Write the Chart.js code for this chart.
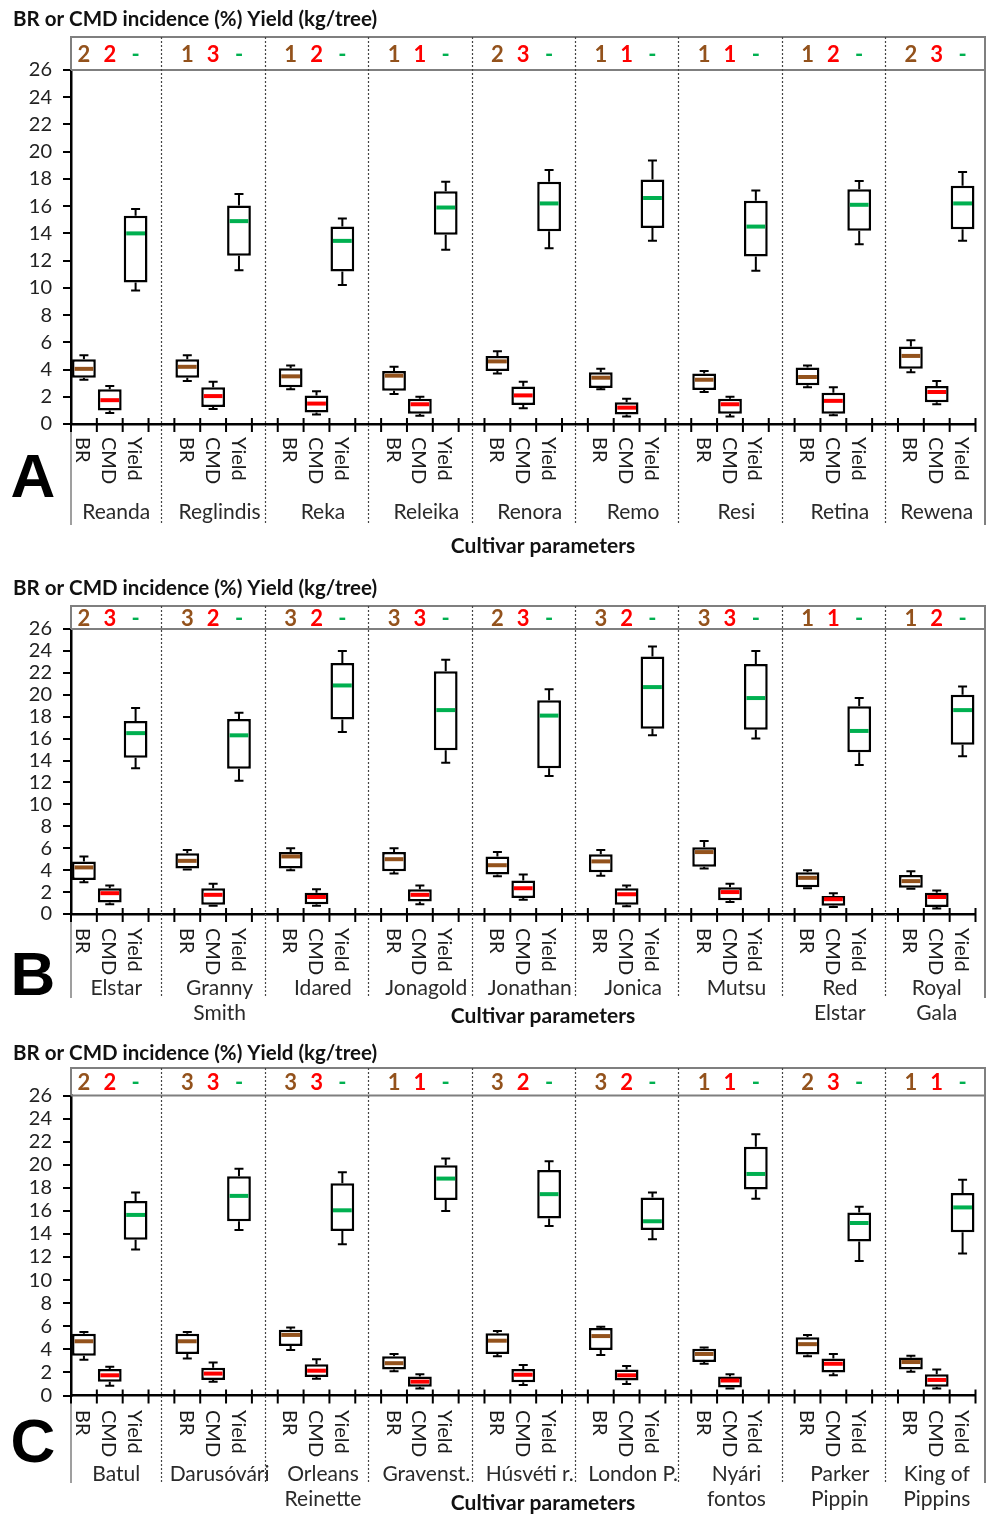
<!DOCTYPE html>
<html>
<head>
<meta charset="utf-8">
<script src="https://cdn.jsdelivr.net/npm/chart.js@4.4.1/dist/chart.umd.min.js"></script>
<style>
  html, body { margin: 0; padding: 0; background: #fff; }
  #wrap { position: relative; width: 990px; height: 1514px; }
  #wrap canvas { position: absolute; left: 0; }
</style>
</head>
<body>
<div id="wrap">
  <canvas id="panelA" width="990" height="560" style="top:0px;width:990px;height:560px"></canvas>
  <canvas id="panelB" width="990" height="465" style="top:565px;width:990px;height:465px"></canvas>
  <canvas id="panelC" width="990" height="484" style="top:1030px;width:990px;height:484px"></canvas>
</div>
<script>
// ---------- data: each stat row is [min, q1, median, q3, max] ----------
const paramLabels = ['BR', 'CMD', 'Yield'];
const yTickValues = [0, 2, 4, 6, 8, 10, 12, 14, 16, 18, 20, 22, 24, 26];
const axisTitle = 'BR or CMD incidence (%) Yield (kg/tree)';
const xTitle = 'Cultivar parameters';

// Panel A
const cultivarsA = ['Reanda', 'Reglindis', 'Reka', 'Releika', 'Renora', 'Remo', 'Resi', 'Retina', 'Rewena'];
const brCodeA  = ['2', '1', '1', '1', '2', '1', '1', '1', '2'];
const cmdCodeA = ['2', '3', '2', '1', '3', '1', '1', '2', '3'];
const brA = [
  [3.25, 3.4, 4.05, 4.75, 5.05], [3.15, 3.4, 4.2, 4.75, 5.05], [2.55, 2.7, 3.5, 4.1, 4.3],
  [2.2, 2.45, 3.55, 3.9, 4.2], [3.7, 3.9, 4.6, 5.0, 5.35], [2.55, 2.65, 3.4, 3.8, 4.05],
  [2.35, 2.5, 3.25, 3.7, 3.9], [2.7, 2.85, 3.45, 4.15, 4.3], [3.8, 4.05, 5.0, 5.7, 6.15]
];
const cmdA = [
  [0.8, 1.0, 1.75, 2.55, 2.8], [1.1, 1.25, 2.05, 2.7, 3.1], [0.7, 0.85, 1.5, 2.1, 2.4],
  [0.6, 0.75, 1.45, 1.85, 2.0], [1.15, 1.4, 2.1, 2.75, 3.1], [0.55, 0.7, 1.2, 1.6, 1.85],
  [0.55, 0.75, 1.45, 1.85, 2.0], [0.65, 0.75, 1.7, 2.3, 2.7], [1.45, 1.6, 2.35, 2.8, 3.15]
];
const yieldA = [
  [9.8, 10.4, 14.0, 15.3, 15.8], [11.3, 12.35, 14.9, 16.05, 16.9], [10.2, 11.2, 13.45, 14.5, 15.1],
  [12.8, 13.9, 15.9, 17.1, 17.8], [12.9, 14.15, 16.2, 17.8, 18.65], [13.45, 14.4, 16.6, 17.95, 19.35],
  [11.25, 12.3, 14.5, 16.4, 17.15], [13.2, 14.2, 16.1, 17.25, 17.85], [13.45, 14.3, 16.2, 17.5, 18.5]
];

// Panel B
const cultivarsB = ['Elstar', 'Granny\nSmith', 'Idared', 'Jonagold', 'Jonathan', 'Jonica', 'Mutsu', 'Red\nElstar', 'Royal\nGala'];
const brCodeB  = ['2', '3', '3', '3', '2', '3', '3', '1', '1'];
const cmdCodeB = ['3', '2', '2', '3', '3', '2', '3', '1', '2'];
const brB = [
  [2.9, 3.1, 4.25, 4.8, 5.25], [4.05, 4.15, 4.85, 5.55, 5.85], [4.0, 4.15, 5.25, 5.65, 6.0],
  [3.7, 3.9, 5.0, 5.65, 6.0], [3.45, 3.6, 4.45, 5.25, 5.65], [3.5, 3.8, 4.8, 5.45, 5.85],
  [4.15, 4.3, 5.65, 6.1, 6.65], [2.35, 2.45, 3.3, 3.8, 4.0], [2.3, 2.4, 3.0, 3.55, 3.9]
];
const cmdB = [
  [0.9, 1.05, 1.9, 2.35, 2.6], [0.75, 0.85, 1.75, 2.35, 2.75], [0.75, 0.9, 1.55, 1.95, 2.25],
  [0.9, 1.15, 1.75, 2.25, 2.6], [1.3, 1.45, 2.35, 3.05, 3.6], [0.7, 0.85, 1.8, 2.35, 2.6],
  [1.1, 1.25, 2.0, 2.45, 2.75], [0.65, 0.75, 1.35, 1.65, 1.9], [0.5, 0.65, 1.55, 1.95, 2.15]
];
const yieldB = [
  [13.3, 14.25, 16.5, 17.6, 18.8], [12.15, 13.25, 16.3, 17.8, 18.35], [16.6, 17.75, 20.85, 22.9, 24.0],
  [13.8, 14.95, 18.6, 22.15, 23.2], [12.6, 13.3, 18.1, 19.5, 20.5], [16.3, 16.9, 20.7, 23.5, 24.4],
  [16.0, 16.8, 19.7, 22.8, 24.0], [13.6, 14.75, 16.7, 18.95, 19.7], [14.4, 15.45, 18.6, 20.0, 20.75]
];

// Panel C
const cultivarsC = ['Batul', 'Darusóvári', 'Orleans\nReinette', 'Gravenst.', 'Húsvéti r.', 'London P.', 'Nyári\nfontos', 'Parker\nPippin', 'King of\nPippins'];
const brCodeC  = ['2', '3', '3', '1', '3', '3', '1', '2', '1'];
const cmdCodeC = ['2', '3', '3', '1', '2', '2', '1', '3', '1'];
const brC = [
  [3.1, 3.45, 4.7, 5.35, 5.5], [3.2, 3.6, 4.7, 5.35, 5.5], [3.95, 4.3, 5.25, 5.7, 5.9],
  [2.1, 2.25, 2.8, 3.4, 3.6], [3.4, 3.6, 4.75, 5.4, 5.6], [3.5, 3.95, 5.15, 5.85, 5.95],
  [2.75, 2.9, 3.6, 4.05, 4.15], [3.4, 3.55, 4.45, 5.05, 5.25], [2.05, 2.25, 2.9, 3.3, 3.45]
];
const cmdC = [
  [0.85, 1.2, 1.75, 2.3, 2.5], [1.2, 1.35, 1.9, 2.4, 2.85], [1.45, 1.6, 2.15, 2.7, 3.15],
  [0.6, 0.75, 1.2, 1.65, 1.85], [0.9, 1.15, 1.8, 2.3, 2.65], [1.0, 1.3, 1.75, 2.25, 2.55],
  [0.6, 0.7, 1.3, 1.65, 1.85], [1.75, 2.0, 2.75, 3.2, 3.6], [0.6, 0.75, 1.35, 1.85, 2.25]
];
const yieldC = [
  [12.65, 13.5, 15.65, 16.85, 17.6], [14.35, 15.1, 17.3, 19.0, 19.65], [13.1, 14.25, 16.05, 18.4, 19.35],
  [16.0, 16.95, 18.8, 19.95, 20.55], [14.7, 15.35, 17.45, 19.55, 20.3], [13.55, 14.35, 15.1, 17.15, 17.6],
  [17.05, 17.85, 19.2, 21.55, 22.65], [11.65, 13.35, 14.95, 15.85, 16.35], [12.3, 14.15, 16.3, 17.55, 18.7]
];

// ---------- styling ----------
const FONT = 'Lato, "Open Sans", sans-serif';
const BROWN = '#93521c';
const RED = '#ff0000';
const GREEN = '#00b050';
const medianColors = [BROWN, RED, GREEN];
const codeColors = [BROWN, RED, GREEN];
const FRAME = '#7f7f7f';
const PLOT_RIGHT = 975.5;
const FRAME_RIGHT = 985;

// Draws whiskers, medians and all the panel furniture around the box plots.
const boxDecor = {
  id: 'boxDecor',
  beforeDatasetsDraw(chart, args, o) {
    const ctx = chart.ctx, y = chart.scales.y, meta = chart.getDatasetMeta(0);
    ctx.save();
    ctx.strokeStyle = '#000';
    ctx.lineWidth = 2;
    o.stats.forEach((s, i) => {
      if (!s) return;
      const cx = meta.data[i].x;
      const pMin = y.getPixelForValue(s[0]), pQ1 = y.getPixelForValue(s[1]);
      const pQ3 = y.getPixelForValue(s[3]), pMax = y.getPixelForValue(s[4]);
      ctx.beginPath();
      ctx.moveTo(cx, pQ3); ctx.lineTo(cx, pMax);
      ctx.moveTo(cx, pQ1); ctx.lineTo(cx, pMin);
      ctx.moveTo(cx - 4.5, pMax); ctx.lineTo(cx + 4.5, pMax);
      ctx.moveTo(cx - 4.5, pMin); ctx.lineTo(cx + 4.5, pMin);
      ctx.stroke();
    });
    ctx.restore();
  },
  afterDatasetsDraw(chart, args, o) {
    const ctx = chart.ctx, y = chart.scales.y, meta = chart.getDatasetMeta(0);
    ctx.save();
    ctx.lineWidth = 4;
    o.stats.forEach((s, i) => {
      if (!s) return;
      const bar = meta.data[i];
      const half = bar.width / 2;
      const pMed = y.getPixelForValue(s[2]);
      ctx.strokeStyle = medianColors[o.kinds[i]];
      ctx.beginPath();
      ctx.moveTo(bar.x - half + 2.5, pMed);
      ctx.lineTo(bar.x + half - 2.5, pMed);
      ctx.stroke();
    });
    ctx.restore();
  },
  afterDraw(chart, args, o) {
    const ctx = chart.ctx, x = chart.scales.x, g = o.geom;
    const n = o.labels.length;
    const c0 = x.getPixelForValue(0);
    const w = x.getPixelForValue(1) - c0;
    const center = i => x.getPixelForValue(i);
    const left = x.left;
    ctx.save();

    // header band and outer frame
    ctx.strokeStyle = FRAME;
    ctx.lineWidth = 2;
    ctx.beginPath();
    ctx.moveTo(left, g.plotTop); ctx.lineTo(left, g.headerTop);
    ctx.lineTo(FRAME_RIGHT, g.headerTop); ctx.lineTo(FRAME_RIGHT, g.frameBottom);
    ctx.moveTo(left, g.plotTop); ctx.lineTo(FRAME_RIGHT, g.plotTop);
    ctx.stroke();
    ctx.lineWidth = 1.5;
    ctx.beginPath();
    ctx.moveTo(left, g.plotBottom); ctx.lineTo(left, g.frameBottom);
    ctx.stroke();

    // dotted separators between cultivars
    ctx.strokeStyle = '#444';
    ctx.lineWidth = 1.2;
    ctx.setLineDash([2, 2]);
    o.labels.forEach((lab, i) => {
      if (lab !== '') return;
      const sx = Math.round(center(i)) + 0.5;
      ctx.beginPath();
      ctx.moveTo(sx, g.headerTop); ctx.lineTo(sx, g.frameBottom);
      ctx.stroke();
    });
    ctx.setLineDash([]);

    // category tick marks crossing the x axis
    ctx.strokeStyle = '#000';
    ctx.lineWidth = 2;
    ctx.beginPath();
    for (let i = 0; i <= n; i++) {
      const bx = c0 - w / 2 + i * w;
      ctx.moveTo(bx, g.plotBottom - 6); ctx.lineTo(bx, g.plotBottom + 8);
    }
    ctx.stroke();

    // parameter labels, rotated to read downwards
    ctx.fillStyle = '#1a1a1a';
    ctx.font = '20px ' + FONT;
    ctx.textAlign = 'left';
    ctx.textBaseline = 'middle';
    o.labels.forEach((lab, i) => {
      if (lab === '') return;
      ctx.save();
      ctx.translate(center(i) - 1, g.labelStart);
      ctx.rotate(Math.PI / 2);
      ctx.fillText(lab, 0, 0);
      ctx.restore();
    });

    // header codes and cultivar names
    const headY = (g.headerTop + g.plotTop) / 2 + 1;
    ctx.textAlign = 'center';
    o.cultivars.forEach((name, k) => {
      const start = k * 4;
      const codes = [o.brCode[k], o.cmdCode[k], '-'];
      ctx.font = 'bold 22px ' + FONT;
      codes.forEach((txt, j) => {
        ctx.fillStyle = codeColors[j];
        ctx.fillText(txt, center(start + j), headY);
      });
      const gx0 = center(start) - w / 2;
      const gx1 = (start + 3 < n) ? center(start + 3) : PLOT_RIGHT;
      ctx.fillStyle = '#2a2a2a';
      ctx.font = '21px ' + FONT;
      name.split('\n').forEach((line, li) => {
        ctx.fillText(line, (gx0 + gx1) / 2, g.nameY + li * 25);
      });
    });

    // titles and panel letter
    ctx.fillStyle = '#111';
    ctx.font = 'bold 21px ' + FONT;
    ctx.fillText(xTitle, 543, g.paramY);
    ctx.textAlign = 'left';
    ctx.font = 'bold 20.5px ' + FONT;
    ctx.fillText(axisTitle, 13, g.titleY);
    ctx.fillStyle = '#000';
    ctx.textAlign = 'center';
    ctx.font = 'bold 62px "Liberation Sans", Arial, sans-serif';
    ctx.fillText(g.letter, 33, g.letterY + 2);
    ctx.restore();
  }
};

function buildPanel(canvasId, geomPage, cultivars, brCode, cmdCode, br, cmd, yld) {
  const off = geomPage.top;
  const g = {};
  Object.keys(geomPage).forEach(k => {
    g[k] = (typeof geomPage[k] === 'number' && k !== 'top' && k !== 'height') ? geomPage[k] - off : geomPage[k];
  });
  const labels = [], boxes = [], stats = [], kinds = [];
  cultivars.forEach((c, i) => {
    [br[i], cmd[i], yld[i]].forEach((s, k) => {
      labels.push(paramLabels[k]);
      boxes.push([s[1], s[3]]);
      stats.push(s);
      kinds.push(k);
    });
    if (i < cultivars.length - 1) {
      labels.push(''); boxes.push(null); stats.push(null); kinds.push(-1);
    }
  });

  new Chart(document.getElementById(canvasId), {
    type: 'bar',
    data: {
      labels: labels,
      datasets: [{
        data: boxes,
        backgroundColor: '#ffffff',
        borderColor: '#000000',
        borderWidth: 2.5,
        borderSkipped: false,
        barPercentage: 0.92,
        categoryPercentage: 1.0
      }]
    },
    options: {
      responsive: false,
      devicePixelRatio: 1,
      animation: false,
      events: [],
      layout: {
        padding: {
          top: g.plotTop,
          left: 0,
          right: 990 - PLOT_RIGHT,
          bottom: geomPage.height - g.plotBottom
        }
      },
      plugins: {
        legend: { display: false },
        tooltip: { enabled: false },
        boxDecor: {
          geom: g, labels: labels, stats: stats, kinds: kinds,
          cultivars: cultivars, brCode: brCode, cmdCode: cmdCode
        }
      },
      scales: {
        x: {
          type: 'category',
          offset: true,
          grid: { display: false },
          ticks: { display: false },
          border: { display: true, color: '#000', width: 2.5 },
          afterFit: s => { s.height = 0; }
        },
        y: {
          min: 0,
          max: 26,
          afterBuildTicks: s => { s.ticks = yTickValues.map(v => ({ value: v })); },
          afterFit: s => { s.width = 71; },
          grid: { drawOnChartArea: false, drawTicks: true, tickLength: 8, color: '#000', lineWidth: 2 },
          border: { display: true, color: '#000', width: 2.5 },
          ticks: { color: '#222', padding: 11, autoSkip: false, font: { family: FONT, size: 20 } }
        }
      }
    },
    plugins: [boxDecor]
  });
}

buildPanel('panelA',
  { top: 0, height: 560, plotTop: 70, plotBottom: 424, headerTop: 37, titleY: 19, labelStart: 437,
    nameY: 512, frameBottom: 525, paramY: 546, letter: 'A', letterY: 478 },
  cultivarsA, brCodeA, cmdCodeA, brA, cmdA, yieldA);

buildPanel('panelB',
  { top: 565, height: 465, plotTop: 629, plotBottom: 914, headerTop: 606, titleY: 588, labelStart: 928,
    nameY: 988, frameBottom: 998, paramY: 1016, letter: 'B', letterY: 976 },
  cultivarsB, brCodeB, cmdCodeB, brB, cmdB, yieldB);

buildPanel('panelC',
  { top: 1030, height: 484, plotTop: 1095.5, plotBottom: 1395.5, headerTop: 1068, titleY: 1053, labelStart: 1410,
    nameY: 1474, frameBottom: 1483, paramY: 1503, letter: 'C', letterY: 1443 },
  cultivarsC, brCodeC, cmdCodeC, brC, cmdC, yieldC);
</script>
</body>
</html>
